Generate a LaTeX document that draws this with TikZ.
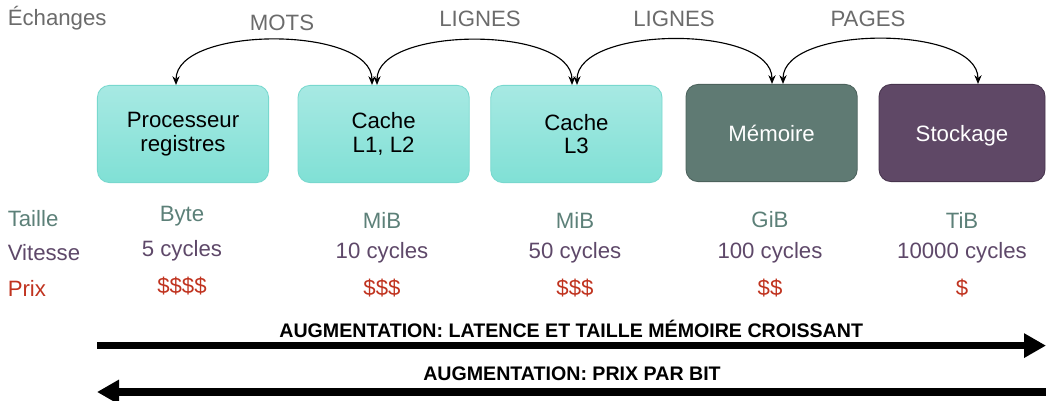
\documentclass[tikz,border=0pt]{standalone}
\usepackage{fontspec}
\setmainfont{Liberation Sans}
\usetikzlibrary{arrows.meta}
\definecolor{cyantop}{HTML}{A7E9E3}
\definecolor{cyanbot}{HTML}{80E0D5}
\definecolor{cyanline}{HTML}{78D8CE}
\definecolor{memfill}{HTML}{5F7A73}
\definecolor{memline}{HTML}{4C625C}
\definecolor{stofill}{HTML}{5F4866}
\definecolor{stoline}{HTML}{47344D}
\definecolor{greytxt}{HTML}{6B6B6B}
\definecolor{sizetxt}{HTML}{5C8078}
\definecolor{speedtxt}{HTML}{5E4869}
\definecolor{pricetxt}{HTML}{C0331F}
\begin{document}
\begin{tikzpicture}[x=1cm,y=1cm,
  font=\fontsize{15.8}{16.6}\selectfont,
  membox/.style={rectangle, rounded corners=0.3cm, align=center, minimum width=4.28cm, minimum height=2.43cm, line width=0.6pt},
  fastbox/.style={membox, draw=cyanline, top color=cyantop, bottom color=cyanbot},
  xch/.style={{Stealth[length=2.2mm,width=1.8mm]}-{Stealth[length=2.2mm,width=1.8mm]}, line width=0.8pt},
  bigarrow/.style={-{Triangle[length=5.5mm,width=5.8mm]}, line width=5pt},
  banner/.style={font=\fontsize{13.95}{16}\selectfont\bfseries}]
\useasboundingbox (0,0) rectangle (26.15,-10.025);
\node[fastbox] (proc) at (4.575,-3.35) {Processeur\\registres};
\node[fastbox] (cdeux) at (9.59,-3.35) {Cache\\L1, L2};
\node[fastbox] (ctrois) at (14.41,-3.35) {Cache\\L3};
\node[membox, draw=memline, fill=memfill, text=white] (mem) at (19.29,-3.325) {Mémoire};
\node[membox, draw=stoline, fill=stofill, text=white, minimum width=4.15cm, text depth=0pt] (stock) at (24.05,-3.325) {Stockage};
% echanges
\node[greytxt, anchor=west] (ech) at (0.07,-0.45) {Échanges};
\node[greytxt] (mots) at (7.05,-0.575) {MOTS};
\node[greytxt] (lig1) at (12.0,-0.475) {LIGNES};
\node[greytxt] (lig2) at (16.85,-0.475) {LIGNES};
\node[greytxt] (pages) at (21.7,-0.475) {PAGES};
\draw[xch] ([xshift=-0.175cm]proc.north) to[out=90,in=90,looseness=0.78] ([xshift=-0.29cm]cdeux.north);
\draw[xch] ([xshift=-0.165cm]cdeux.north) to[out=90,in=90,looseness=0.78] ([xshift=-0.11cm]ctrois.north);
\draw[xch] ([xshift=0.015cm]ctrois.north) to[out=90,in=90,looseness=0.78] ([xshift=0.01cm]mem.north);
\draw[xch] ([xshift=0.285cm]mem.north) to[out=90,in=90,looseness=0.78] ([xshift=0.4cm]stock.north);
% lignes du tableau
\node[sizetxt, anchor=west] (taille) at (0.07,-5.475) {Taille};
\node[speedtxt, anchor=west] (vitesse) at (0.07,-6.325) {Vitesse};
\node[pricetxt, anchor=west] (prix) at (0.07,-7.2) {Prix};
\node[sizetxt] (t1) at (4.55,-5.4) {Byte};
\node[sizetxt] (t2) at (9.55,-5.5) {MiB};
\node[sizetxt] (t3) at (14.375,-5.5) {MiB};
\node[sizetxt] (t4) at (19.25,-5.5) {GiB};
\node[sizetxt] (t5) at (24.05,-5.5) {TiB};
\node[speedtxt] (v1) at (4.55,-6.275) {5 cycles};
\node[speedtxt] (v2) at (9.55,-6.325) {10 cycles};
\node[speedtxt] (v3) at (14.375,-6.325) {50 cycles};
\node[speedtxt] (v4) at (19.25,-6.325) {100 cycles};
\node[speedtxt] (v5) at (24.05,-6.325) {10000 cycles};
\node[pricetxt] (p1) at (4.55,-7.15) {\$\$\$\$};
\node[pricetxt] (p2) at (9.55,-7.2) {\$\$\$};
\node[pricetxt] (p3) at (14.375,-7.2) {\$\$\$};
\node[pricetxt] (p4) at (19.25,-7.2) {\$\$};
\node[pricetxt] (p5) at (24.05,-7.2) {\$};
% fleches du bas
\node[banner] (lat) at (14.28,-8.225) {AUGMENTATION: LATENCE ET TAILLE MÉMOIRE CROISSANT};
\node[banner] (bit) at (14.3,-9.35) {AUGMENTATION: PRIX PAR BIT};
\coordinate (latA) at (2.425,-8.64);
\coordinate (latB) at (26.15,-8.64);
\coordinate (bitA) at (26.15,-9.8);
\coordinate (bitB) at (2.425,-9.8);
\draw[bigarrow] (latA) -- (latB);
\draw[bigarrow] (bitA) -- (bitB);
\end{tikzpicture}
\end{document}
